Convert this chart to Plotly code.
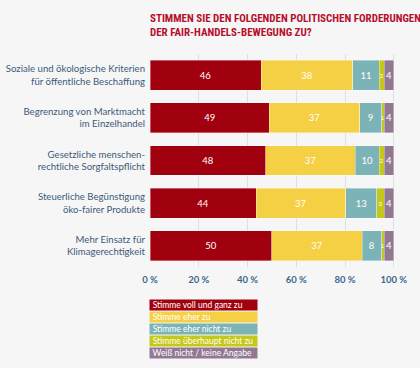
import plotly.graph_objects as go

categories = [
    "Soziale und ökologische Kriterien<br>für öffentliche Beschaffung",
    "Begrenzung von Marktmacht<br>im Einzelhandel",
    "Gesetzliche menschen-<br>rechtliche Sorgfaltspflicht",
    "Steuerliche Begünstigung<br>öko-fairer Produkte",
    "Mehr Einsatz für<br>Klimagerechtigkeit",
]
series_names = [
    "Stimme voll und ganz zu",
    "Stimme eher zu",
    "Stimme eher nicht zu",
    "Stimme überhaupt nicht zu",
    "Weiß nicht / keine Angabe",
]
voll = [46, 49, 48, 44, 50]
eher = [38, 37, 37, 37, 37]
eher_nicht = [11, 9, 10, 13, 8]
ueberhaupt_nicht = [2, 1, 2, 3, 1]
weiss_nicht = [4, 4, 4, 4, 4]
tick_values = [0, 20, 40, 60, 80, 100]
tick_labels = ["0 %", "20 %", "40 %", "60 %", "80 %", "100 %"]

colors = ["#A1000F", "#F5D045", "#7BB3B7", "#C5C816", "#937894"]
label_sizes = [9.5, 9.5, 9.5, 6, 9.5]
series = [voll, eher, eher_nicht, ueberhaupt_nicht, weiss_nicht]

totals = [sum(s[i] for s in series) for i in range(len(categories))]

fig = go.Figure()
for name, vals, col, fs in zip(series_names, series, colors, label_sizes):
    shares = [v / t * 100 for v, t in zip(vals, totals)]
    fig.add_trace(go.Bar(
        y=categories, x=shares, name=name, orientation="h",
        marker=dict(color=col, line=dict(color="rgba(255,255,255,0.6)", width=0.6)),
        text=[str(v) for v in vals], textposition="inside",
        insidetextanchor="middle", constraintext="none",
        textfont=dict(color="white", size=fs, family="Lato"),
        hoverinfo="skip", showlegend=False,
    ))

# legend as colored boxes with white text
for k, (name, col) in enumerate(zip(series_names, colors)):
    fig.add_annotation(
        xref="paper", yref="paper", x=-0.004, xanchor="left",
        y=-0.178 - k * 0.0563, yanchor="middle",
        text="\u00a0" + name, showarrow=False, align="left",
        width=106, height=9, bgcolor=col, borderpad=0.5,
        font=dict(color="white", size=8.5, family="Lato"),
    )

fig.update_layout(
    width=420, height=368,
    barmode="stack", bargap=0.3,
    paper_bgcolor="#F6F6F6", plot_bgcolor="#F6F6F6",
    margin=dict(l=150, r=25, t=54, b=101),
    title=dict(
        text="STIMMEN SIE DEN FOLGENDEN POLITISCHEN FORDERUNGEN<br>DER FAIR-HANDELS-BEWEGUNG ZU?",
        x=150 / 420, xanchor="left", y=0.94, yanchor="top",
        font=dict(family="Noto Sans ExtraCondensed, Noto Sans Condensed, Roboto Condensed, DejaVu Sans Condensed",
                  size=11, color="#B50F2C", weight="bold"),
    ),
    xaxis=dict(
        range=[0, 100.5], tickvals=tick_values, ticktext=tick_labels,
        showgrid=True, gridcolor="#D9E0E8", gridwidth=1, zeroline=False,
        tickfont=dict(family="Lato", size=9.5, color="#3B6690", weight="bold"),
        ticks="", ticklabelstandoff=5, fixedrange=True, automargin=False,
    ),
    yaxis=dict(
        autorange="reversed", showgrid=False, zeroline=False,
        tickfont=dict(family="Lato", size=9.6, color="#3D5A78"),
        ticks="", ticklen=0, ticklabelstandoff=4, fixedrange=True, automargin=False,
    ),
)

fig.write_html("out.html", config={"displayModeBar": False},
               post_script="document.body.style.margin='0';document.body.style.overflow='hidden';")
